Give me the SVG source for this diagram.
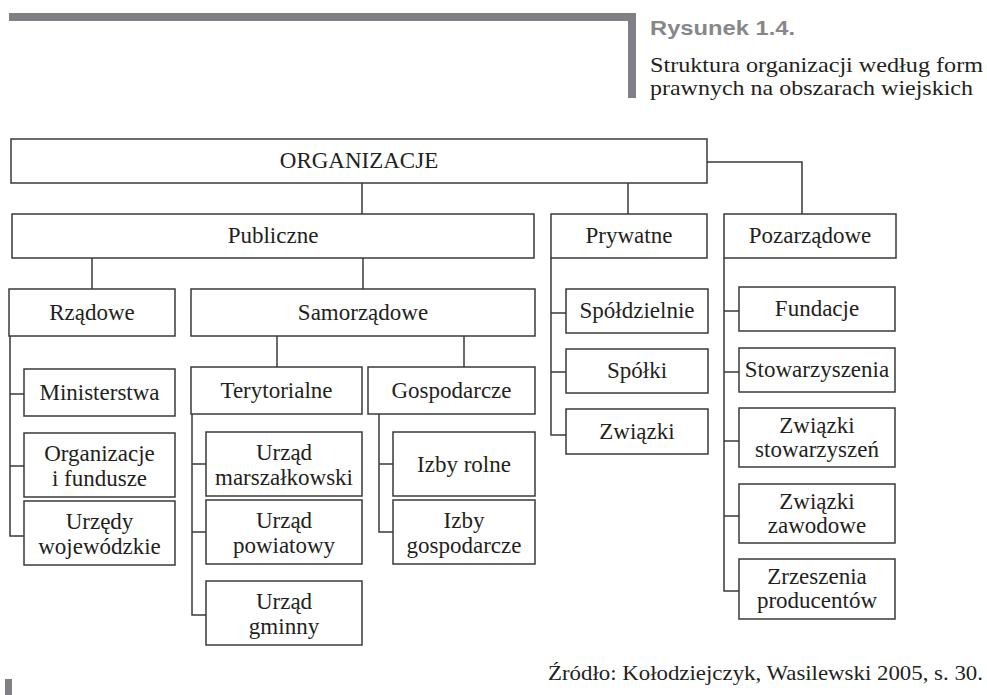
<svg xmlns="http://www.w3.org/2000/svg" width="987" height="695" viewBox="0 0 987 695">
<style>
.box rect{fill:#fff;stroke:#3a3a3a;stroke-width:1.5}
.box text{font-family:'Liberation Serif','DejaVu Serif',serif;font-size:23px;fill:#231f20;text-anchor:middle}
.cap{font-family:'Liberation Serif','DejaVu Serif',serif;font-size:22px;fill:#231f20}
.con path{fill:none;stroke:#3a3a3a;stroke-width:1.5}
.bar{fill:#808084}
</style>
<rect class="bar" x="9" y="13" width="627" height="8"/>
<rect class="bar" x="628" y="13" width="8" height="85"/>
<rect class="bar" x="5" y="679" width="7" height="16"/>
<text x="650" y="35" font-family="'Liberation Sans',Arial,sans-serif" font-weight="bold" font-size="21" fill="#87878b" textLength="145" lengthAdjust="spacingAndGlyphs">Rysunek 1.4.</text>
<text class="cap" x="650" y="72" textLength="333" lengthAdjust="spacingAndGlyphs">Struktura organizacji według form</text>
<text class="cap" x="650" y="95" textLength="323" lengthAdjust="spacingAndGlyphs">prawnych na obszarach wiejskich</text>
<text class="cap" x="983" y="680" text-anchor="end" textLength="435" lengthAdjust="spacingAndGlyphs">Źródło: Kołodziejczyk, Wasilewski 2005, s. 30.</text>

<g class="con">
<path d="M362,183V214"/>
<path d="M628,183V214"/>
<path d="M707,162H802V214"/>
<path d="M92,258V289"/>
<path d="M363,258V289"/>
<path d="M277,336V367"/>
<path d="M464,336V367"/>
<path d="M10,336V536H24M10,394H24M10,466H24"/>
<path d="M192,414V615H206M192,464H206M192,532H206"/>
<path d="M379,414V532H393M379,464H393"/>
<path d="M551,258V435H566M551,313H566M551,372H566"/>
<path d="M724,258V591H739M724,311H739M724,372H739M724,441H739M724,516H739"/>
</g>

<g id="organizacje" class="box"><rect x="11" y="139" width="696" height="44"/><text x="359" y="168">ORGANIZACJE</text></g>
<g id="publiczne" class="box"><rect x="12" y="214" width="522" height="44"/><text x="273" y="243">Publiczne</text></g>
<g id="prywatne" class="box"><rect x="551" y="214" width="156" height="44"/><text x="629" y="243">Prywatne</text></g>
<g id="pozarzadowe" class="box"><rect x="724" y="214" width="172" height="44"/><text x="810" y="243">Pozarządowe</text></g>
<g id="rzadowe" class="box"><rect x="9" y="289" width="166" height="47"/><text x="92" y="320">Rządowe</text></g>
<g id="samorzadowe" class="box"><rect x="191" y="289" width="344" height="47"/><text x="363" y="320">Samorządowe</text></g>
<g id="spoldzielnie" class="box"><rect x="566" y="289" width="142" height="44"/><text x="637" y="318">Spółdzielnie</text></g>
<g id="fundacje" class="box"><rect x="739" y="287" width="156" height="44"/><text x="817" y="316">Fundacje</text></g>
<g id="ministerstwa" class="box"><rect x="24" y="369" width="151" height="47"/><text x="99.5" y="400">Ministerstwa</text></g>
<g id="terytorialne" class="box"><rect x="191" y="367" width="171" height="47"/><text x="276.5" y="398">Terytorialne</text></g>
<g id="gospodarcze" class="box"><rect x="368" y="367" width="167" height="47"/><text x="451.5" y="398">Gospodarcze</text></g>
<g id="spolki" class="box"><rect x="566" y="349" width="142" height="44"/><text x="637" y="378">Spółki</text></g>
<g id="stowarzyszenia" class="box"><rect x="739" y="348" width="156" height="44"/><text x="817" y="377">Stowarzyszenia</text></g>
<g id="zwiazki" class="box"><rect x="566" y="409" width="142" height="45"/><text x="637" y="439">Związki</text></g>
<g id="organizacje-fundusze" class="box"><rect x="24" y="433" width="151" height="64"/><text x="99.5" y="461">Organizacje</text><text x="99.5" y="486">i fundusze</text></g>
<g id="urzad-marszalkowski" class="box"><rect x="206" y="432" width="156" height="64"/><text x="284" y="460">Urząd</text><text x="284" y="485">marszałkowski</text></g>
<g id="izby-rolne" class="box"><rect x="393" y="432" width="142" height="64"/><text x="464" y="472">Izby rolne</text></g>
<g id="zwiazki-stowarzyszen" class="box"><rect x="739" y="408" width="156" height="59"/><text x="817" y="433">Związki</text><text x="817" y="457">stowarzyszeń</text></g>
<g id="urzedy-wojewodzkie" class="box"><rect x="24" y="501" width="151" height="64"/><text x="99.5" y="529">Urzędy</text><text x="99.5" y="554">wojewódzkie</text></g>
<g id="urzad-powiatowy" class="box"><rect x="206" y="500" width="156" height="64"/><text x="284" y="528">Urząd</text><text x="284" y="553">powiatowy</text></g>
<g id="izby-gospodarcze" class="box"><rect x="393" y="500" width="142" height="64"/><text x="464" y="528">Izby</text><text x="464" y="553">gospodarcze</text></g>
<g id="zwiazki-zawodowe" class="box"><rect x="739" y="484" width="156" height="59"/><text x="817" y="509">Związki</text><text x="817" y="533">zawodowe</text></g>
<g id="urzad-gminny" class="box"><rect x="206" y="581" width="156" height="64"/><text x="284" y="609">Urząd</text><text x="284" y="634">gminny</text></g>
<g id="zrzeszenia-producentow" class="box"><rect x="739" y="559" width="156" height="60"/><text x="817" y="584">Zrzeszenia</text><text x="817" y="608">producentów</text></g>
</svg>
